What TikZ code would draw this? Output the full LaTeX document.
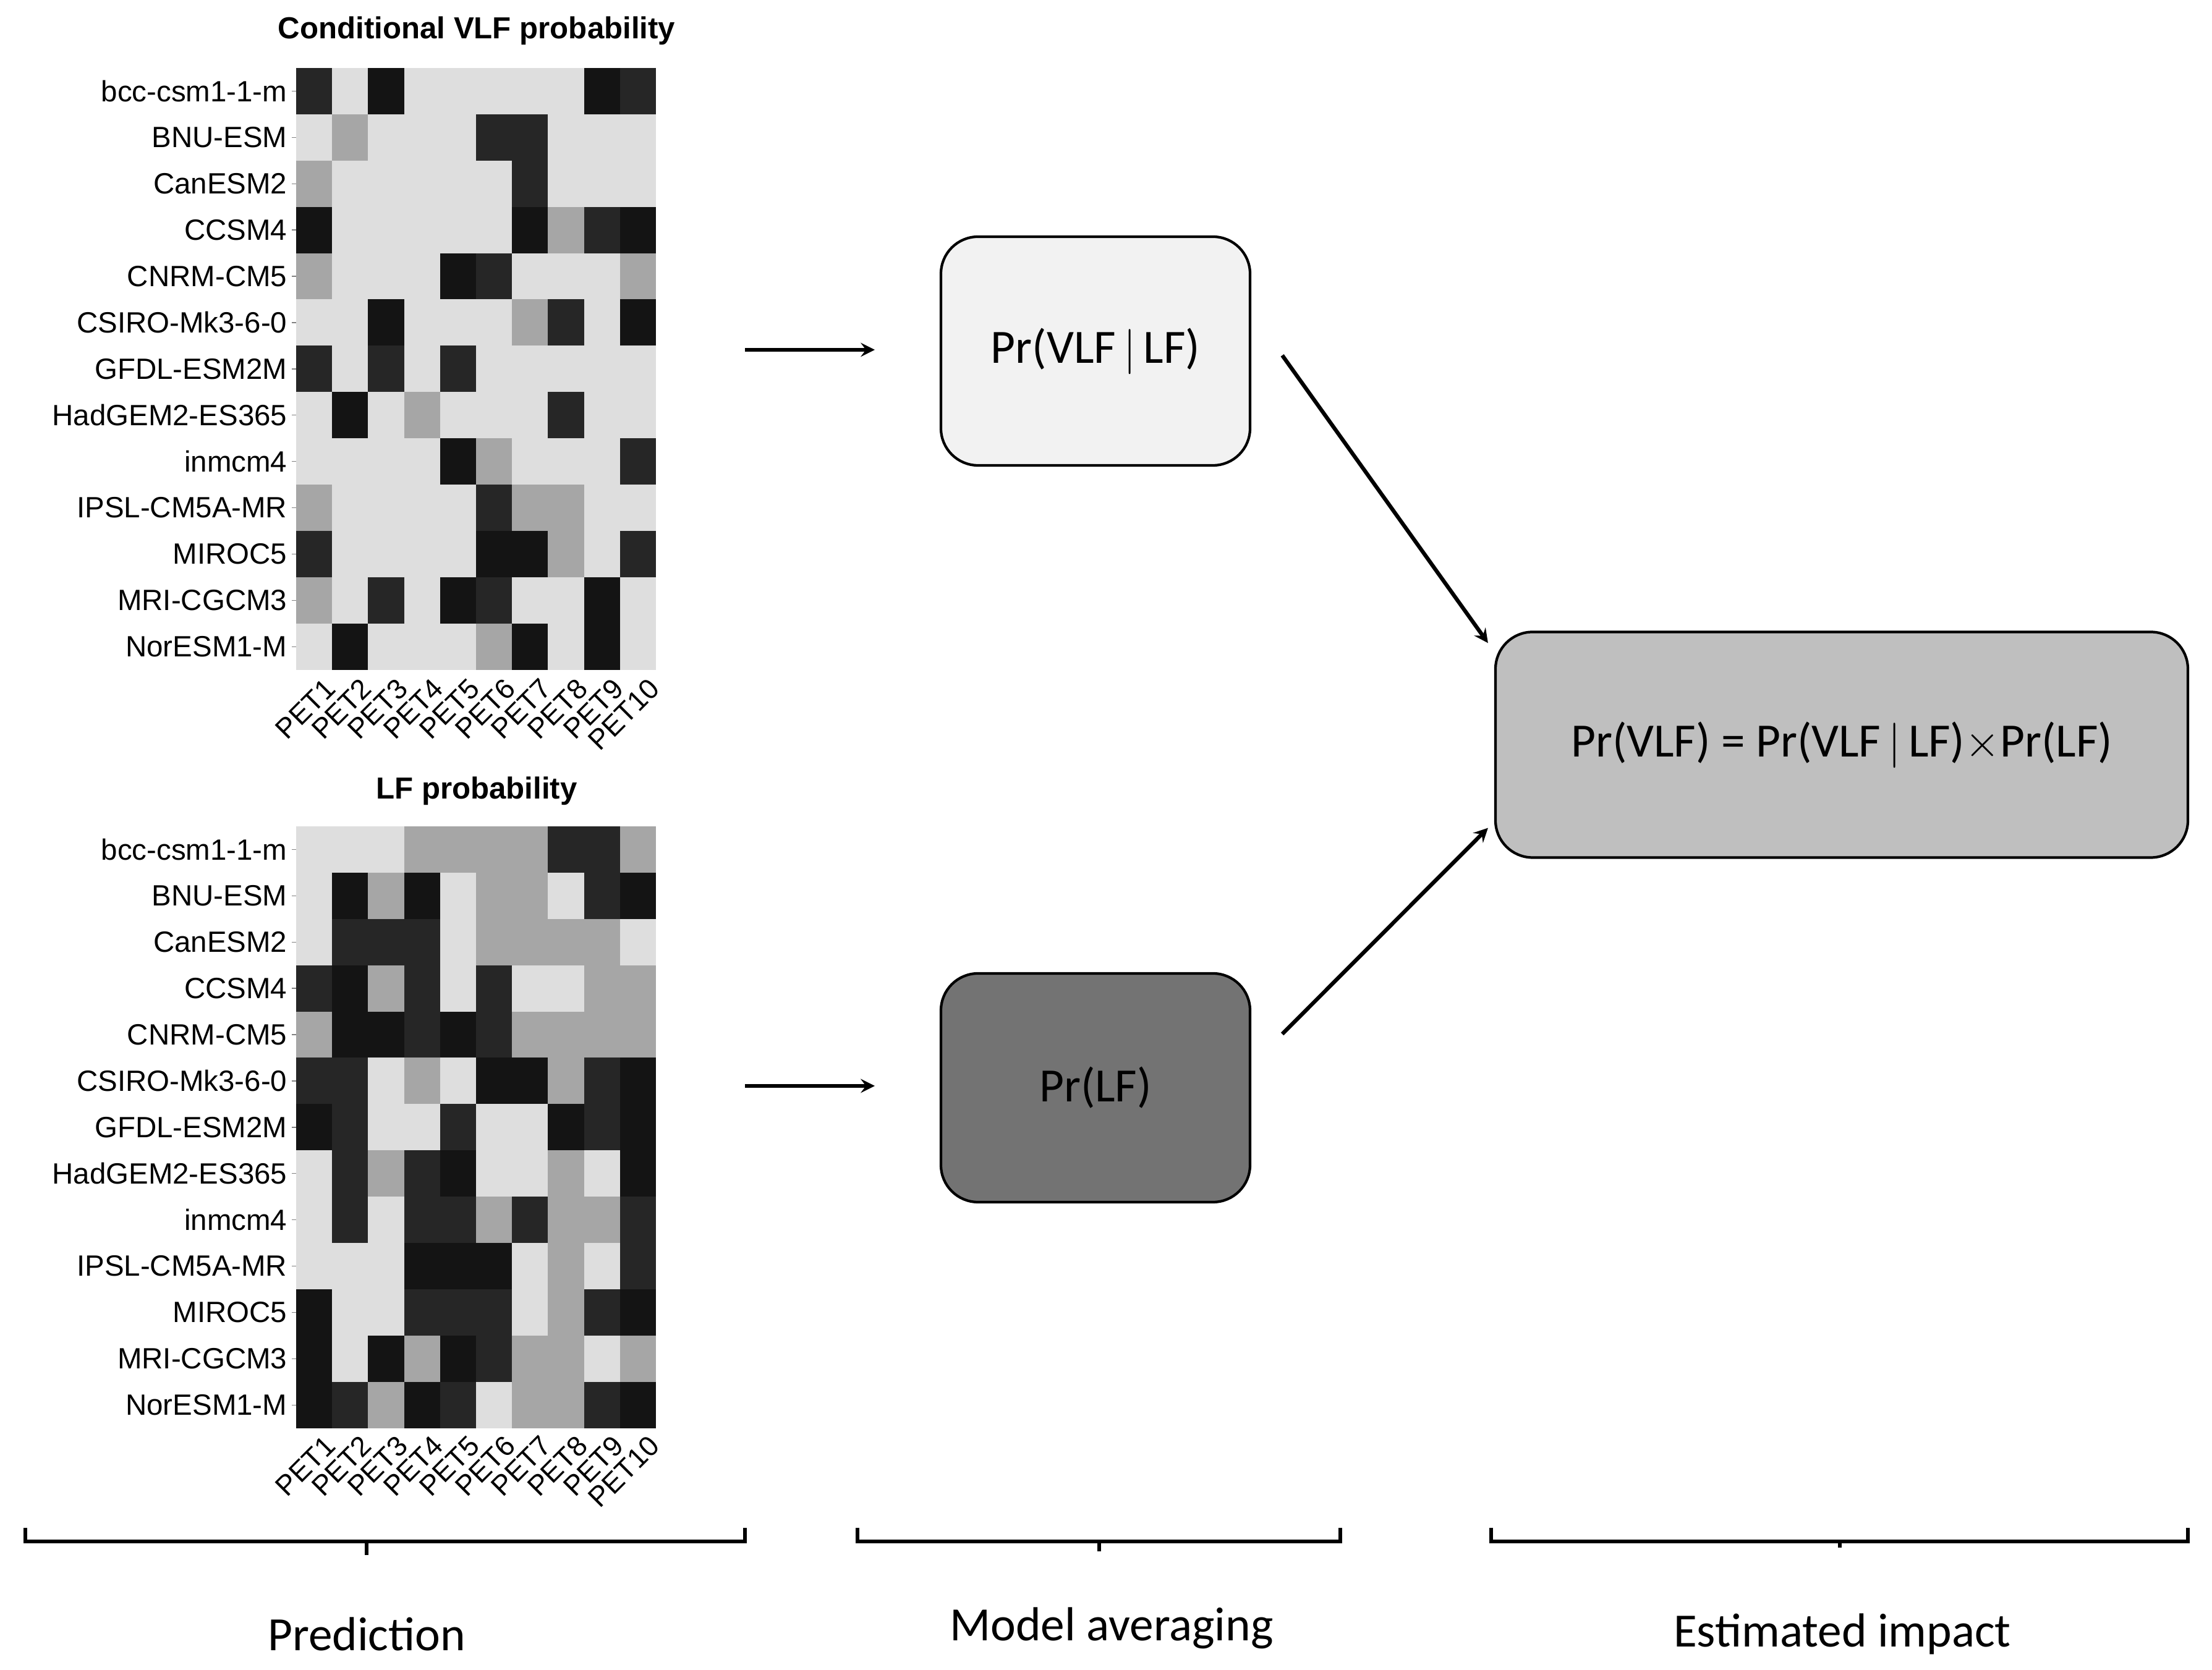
\documentclass[tikz,border=0pt]{standalone}
\usepackage{fontspec}
\setmainfont{Carlito}
\newfontfamily\plotfont{Liberation Sans}
\usetikzlibrary{positioning}
\usetikzlibrary{arrows}
\colorlet{cL}{black!13}
\colorlet{cG}{black!35}
\colorlet{cD}{black!85}
\colorlet{cK}{black!92}
\tikzset{rowlab/.style={anchor=east,font=\plotfont\fontsize{13.5}{16}\selectfont,inner sep=2pt}}
\tikzset{collab/.style={anchor=north east,rotate=45,font=\plotfont\fontsize{13}{15}\selectfont,inner sep=0.5pt}}
\tikzset{box/.style={draw=black,line width=1.2pt,rounded corners=0.6cm,font=\fontsize{22}{26}\selectfont}}
\tikzset{bracket/.style={line width=1.6pt}}

\begin{document}
\begin{tikzpicture}[>=stealth]
		\useasboundingbox (0,0) rectangle (35.78,27.02);
		\def\models{bcc-csm1-1-m,BNU-ESM,CanESM2,CCSM4,CNRM-CM5,CSIRO-Mk3-6-0,GFDL-ESM2M,HadGEM2-ES365,inmcm4,IPSL-CM5A-MR,MIROC5,MRI-CGCM3,NorESM1-M}
		% conditional VLF heatmap
		\node[font=\plotfont\bfseries\fontsize{14}{17}\selectfont] (t1) at (7.71,26.52) {Conditional VLF probability};
		\foreach \row [count=\i] in {{D,L,K,L,L,L,L,L,K,D},{L,G,L,L,L,D,D,L,L,L},{G,L,L,L,L,L,D,L,L,L},{K,L,L,L,L,L,K,G,D,K},{G,L,L,L,K,D,L,L,L,G},{L,L,K,L,L,L,G,D,L,K},{D,L,D,L,D,L,L,L,L,L},{L,K,L,G,L,L,L,D,L,L},{L,L,L,L,K,G,L,L,L,D},{G,L,L,L,L,D,G,G,L,L},{D,L,L,L,L,K,K,G,L,D},{G,L,D,L,K,D,L,L,K,L},{L,K,L,L,L,G,K,L,K,L}}
			\foreach \c [count=\j] in \row
				\fill[c\c] ({4.79+(\j-1)*0.582},{25.92-(\i-1)*0.749}) rectangle ++(0.582,-0.749);
		\foreach \m [count=\i] in \models {
			\draw[black!50] (4.72,{25.92-(\i-0.5)*0.749}) -- (4.79,{25.92-(\i-0.5)*0.749});
			\node[rowlab] at (4.72,{25.92-(\i-0.5)*0.749}) {\m};
		}
		\foreach \j in {1,...,10}
			\node[collab] at ({4.79+(\j-0.5)*0.582+0.15},16.10) {PET\j};
		% LF heatmap
		\node[font=\plotfont\bfseries\fontsize{14}{17}\selectfont] (t2) at (7.71,14.22) {LF probability};
		\foreach \row [count=\i] in {{L,L,L,G,G,G,G,D,D,G},{L,K,G,K,L,G,G,L,D,K},{L,D,D,D,L,G,G,G,G,L},{D,K,G,D,L,D,L,L,G,G},{G,K,K,D,K,D,G,G,G,G},{D,D,L,G,L,K,K,G,D,K},{K,D,L,L,D,L,L,K,D,K},{L,D,G,D,K,L,L,G,L,K},{L,D,L,D,D,G,D,G,G,D},{L,L,L,K,K,K,L,G,L,D},{K,L,L,D,D,D,L,G,D,K},{K,L,K,G,K,D,G,G,L,G},{K,D,G,K,D,L,G,G,D,K}}
			\foreach \c [count=\j] in \row
				\fill[c\c] ({4.79+(\j-1)*0.582},{13.65-(\i-1)*0.749}) rectangle ++(0.582,-0.749);
		\foreach \m [count=\i] in \models {
			\draw[black!50] (4.72,{13.65-(\i-0.5)*0.749}) -- (4.79,{13.65-(\i-0.5)*0.749});
			\node[rowlab] at (4.72,{13.65-(\i-0.5)*0.749}) {\m};
		}
		\foreach \j in {1,...,10}
			\node[collab] at ({4.79+(\j-0.5)*0.582+0.15},3.85) {PET\j};
		% boxes
		\node[box,fill=black!5,minimum width=5cm,minimum height=3.7cm] (cond) at (17.72,21.34) {Pr(VLF$\,|\,$LF)};
		\node[box,fill=black!55,minimum width=5cm,minimum height=3.7cm] (lf) at (17.72,9.42) {Pr(LF)};
		\node[box,fill=black!25,minimum width=11.2cm,minimum height=3.65cm] (impact) at (29.79,14.97) {Pr(VLF) = Pr(VLF$\,|\,$LF)$\times$Pr(LF)};
		\coordinate (h1) at (12.05,21.36);
		\coordinate (h2) at (12.05,9.45);
		\draw[->,line width=1.8pt] (h1) -- (14.15,21.36);
		\draw[->,line width=1.8pt] (h2) -- (14.15,9.45);
		\draw[->,line width=1.8pt] (cond.east |- 0,21.27) ++(0.5,0) -- ([xshift=-0.1cm,yshift=-0.2cm]impact.north west);
		\draw[->,line width=1.8pt] (lf.east |- 0,10.29) ++(0.5,0) -- ([xshift=-0.1cm,yshift=0.5cm]impact.south west);
		% brackets
		\draw[bracket] (0.41,2.30) -- (0.41,2.08) -- (12.05,2.08) -- (12.05,2.30) (5.93,2.08) -- (5.93,1.86);
		\draw[bracket] (13.87,2.30) -- (13.87,2.08) -- (21.68,2.08) -- (21.68,2.30) (17.78,2.08) -- (17.78,1.92);
		\draw[bracket] (24.12,2.30) -- (24.12,2.08) -- (35.39,2.08) -- (35.39,2.30) (29.76,2.08) -- (29.76,1.98);
		\node[font=\fontsize{22}{26}\selectfont] (pred) at (5.93,0.58) {Prediction};
		\node[font=\fontsize{22}{26}\selectfont] (avg) at (17.98,0.68) {Model averaging};
		\node[font=\fontsize{22}{26}\selectfont] (est) at (29.80,0.58) {Estimated impact};
	\end{tikzpicture}
\end{document}
